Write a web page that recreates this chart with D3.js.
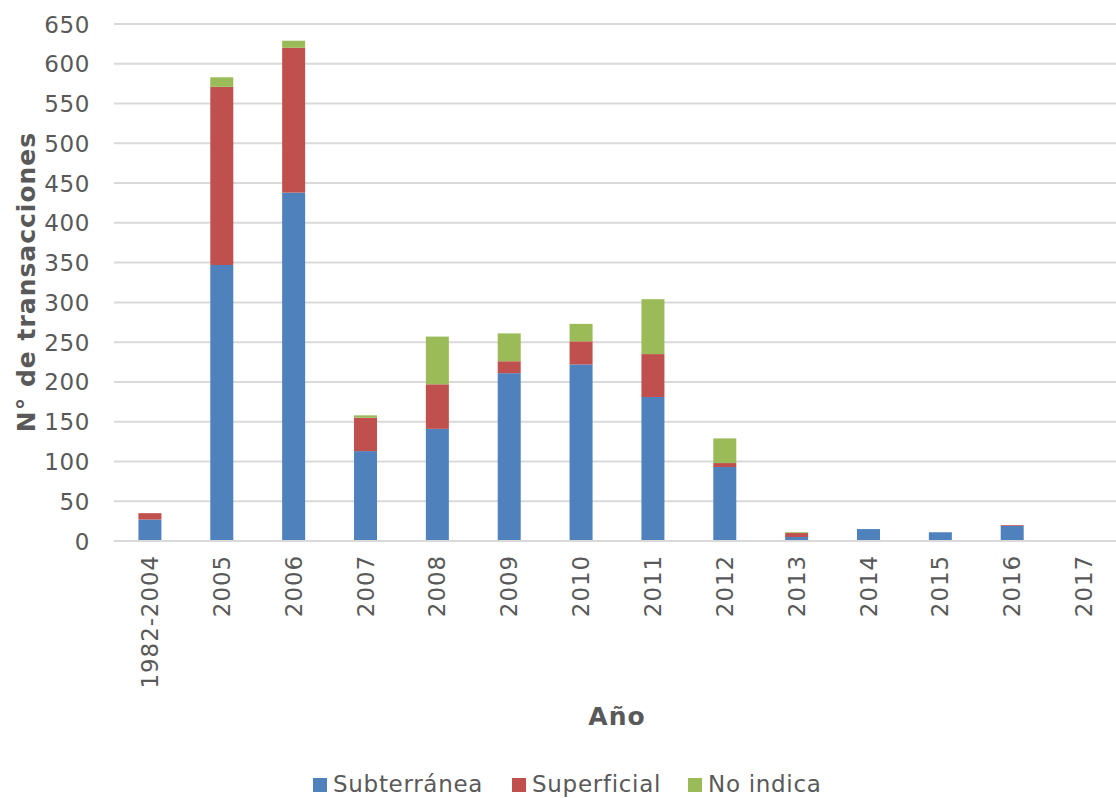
<!DOCTYPE html>
<html>
<head>
<meta charset="utf-8">
<script src="https://cdn.jsdelivr.net/npm/d3@7"></script>
<style>
  html, body { margin: 0; padding: 0; background: #fff; }
  svg { display: block; }
  text { font-family: "DejaVu Sans", Verdana, sans-serif; }
</style>
</head>
<body>
<svg id="chart" width="1116" height="798"></svg>
<script>
const categories = ["1982-2004","2005","2006","2007","2008","2009","2010","2011","2012","2013","2014","2015","2016","2017"];
const subterranea = [27, 347, 438, 113, 141, 211, 222, 181, 93, 5, 15, 11, 19, 1];
const superficial = [8, 224, 182, 42, 56, 15, 29, 54, 5, 5, 0, 0, 1, 0];
const noIndica    = [0, 12, 9, 3, 60, 35, 22, 69, 31, 1, 0, 0, 0, 0];
const seriesNames = ["Subterránea", "Superficial", "No indica"];
const seriesColors = ["#4F81BD", "#C0504D", "#9BBB59"];
const yTicks = [0,50,100,150,200,250,300,350,400,450,500,550,600,650];

(function () {
const svg = d3.select("#chart");
const pLeft = 114, pRight = 1120, pTop = 24, pBottom = 541;
const FONT = "DejaVu Sans, Verdana, sans-serif";

const x = d3.scaleBand().domain(categories).range([pLeft, pRight]).paddingInner(0.68).paddingOuter(0.34);
const y = d3.scaleLinear().domain([0, 650]).range([pBottom, pTop]);

// gridlines
svg.append("g").selectAll("line").data(yTicks).join("line")
  .attr("x1", pLeft).attr("x2", pRight)
  .attr("y1", d => y(d)).attr("y2", d => y(d))
  .attr("stroke", "#D9D9D9").attr("stroke-width", 2);

// y axis labels
const yAxis = d3.axisLeft(y).tickValues(yTicks).tickSize(0).tickPadding(0);
const yg = svg.append("g").attr("transform", `translate(90,0)`).call(yAxis);
yg.select(".domain").remove();
yg.selectAll("text").attr("font-size", 23).attr("fill", "#595959")
  .attr("letter-spacing", "0.6px")
  .attr("font-family", FONT).attr("dy", "0.35em");

// stacked data
const table = categories.map((c, i) => ({cat: c, s0: subterranea[i], s1: superficial[i], s2: noIndica[i]}));
const stack = d3.stack().keys(["s0","s1","s2"])(table);

svg.append("g").selectAll("g").data(stack).join("g")
  .attr("fill", (d, i) => seriesColors[i])
  .selectAll("rect").data(d => d).join("rect")
  .attr("x", d => x(d.data.cat))
  .attr("width", x.bandwidth())
  .attr("y", d => y(d[1]))
  .attr("height", d => Math.max(0, y(d[0]) - y(d[1])));

// x axis line
svg.append("line").attr("x1", pLeft).attr("x2", pRight).attr("y1", pBottom).attr("y2", pBottom)
  .attr("stroke", "#D9D9D9").attr("stroke-width", 2);

// x tick labels
const xAxis = d3.axisBottom(x).tickSize(0).tickPadding(0);
const xg = svg.append("g").attr("transform", `translate(0,${pBottom})`).call(xAxis);
xg.select(".domain").remove();
xg.selectAll("text")
  .attr("font-size", 23).attr("fill", "#595959")
  .attr("letter-spacing", "0.9px")
  .attr("font-family", FONT)
  .attr("transform", "rotate(-90)")
  .attr("text-anchor", "end")
  .attr("x", -14).attr("y", 0).attr("dy", "0.35em");

// axis titles
svg.append("text").attr("x", 617).attr("y", 725).attr("text-anchor", "middle")
  .attr("font-size", 25).attr("font-weight", "bold").attr("fill", "#595959")
  .attr("letter-spacing", "1px").text("Año");
svg.append("text").attr("transform", "translate(35,282) rotate(-90)").attr("text-anchor", "middle")
  .attr("font-size", 25).attr("font-weight", "bold").attr("fill", "#595959")
  .attr("letter-spacing", "1px").text("N° de transacciones");

// legend
const legendX = [313, 512, 688];
const lg = svg.append("g");
seriesNames.forEach((n, i) => {
  lg.append("rect").attr("x", legendX[i]).attr("y", 778).attr("width", 14).attr("height", 14).attr("fill", seriesColors[i]);
  lg.append("text").attr("x", legendX[i] + 20).attr("y", 792).attr("font-size", 23)
    .attr("letter-spacing", "0.7px").attr("fill", "#595959").text(n);
});
})();
</script>
</body>
</html>
